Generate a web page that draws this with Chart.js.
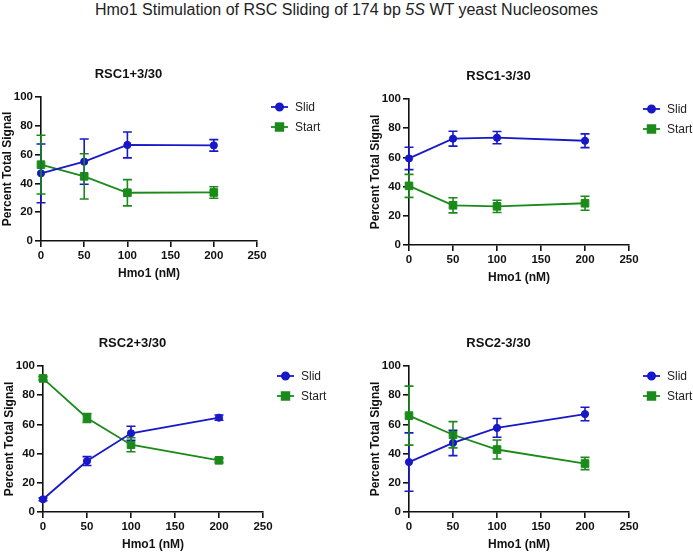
<!DOCTYPE html>
<html><head><meta charset="utf-8">
<script src="https://cdn.jsdelivr.net/npm/chart.js@4/dist/chart.umd.min.js"></script>
<style>
body{margin:0;width:693px;height:553px;background:#fff;position:relative;overflow:hidden;font-family:"Liberation Sans",Arial,sans-serif}
#title{position:absolute;left:0;top:1px;width:693px;text-align:center;font-size:16px;color:#222;white-space:nowrap}
canvas{position:absolute}
</style></head><body>
<div id="title">Hmo1 Stimulation of RSC Sliding of 174 bp <i>5S</i> WT yeast Nucleosomes</div>
<canvas id="c1" width="325" height="233" style="left:0;top:54px"></canvas>
<canvas id="c2" width="325" height="235" style="left:368px;top:56px"></canvas>
<canvas id="c3" width="325" height="235" style="left:2px;top:323px"></canvas>
<canvas id="c4" width="325" height="235" style="left:368px;top:323px"></canvas>
<script>
// ---- data ----
const doses = [0, 50, 100, 200];
const seriesNames = ['Slid', 'Start'];
const panelTitles = ['RSC1+3/30', 'RSC1-3/30', 'RSC2+3/30', 'RSC2-3/30'];
const xAxisTitle = 'Hmo1 (nM)';
const yAxisTitle = 'Percent Total Signal';

const rsc1Plus_slid      = [47.0, 55.1, 66.7, 66.4];
const rsc1Plus_slidErr   = [20.4, 15.7, 9.0, 4.0];
const rsc1Plus_start     = [53.0, 44.9, 33.5, 33.7];
const rsc1Plus_startErr  = [20.4, 15.7, 9.1, 4.0];

const rsc1Minus_slid     = [59.3, 72.8, 73.5, 71.4];
const rsc1Minus_slidErr  = [7.7, 5.1, 4.2, 4.7];
const rsc1Minus_start    = [40.5, 27.2, 26.5, 28.6];
const rsc1Minus_startErr = [7.9, 5.2, 4.2, 4.8];

const rsc2Plus_slid      = [8.7, 34.9, 53.9, 64.6];
const rsc2Plus_slidErr   = [1.0, 3.0, 4.8, 1.8];
const rsc2Plus_start     = [91.5, 64.4, 46.1, 35.4];
const rsc2Plus_startErr  = [1.2, 3.0, 4.8, 1.5];

const rsc2Minus_slid     = [34.2, 47.3, 57.6, 67.1];
const rsc2Minus_slidErr  = [20.0, 8.7, 6.4, 4.6];
const rsc2Minus_start    = [66.0, 52.9, 42.8, 33.2];
const rsc2Minus_startErr = [20.2, 9.0, 6.5, 4.2];

const xMin = 0, xMax = 250, xStep = 50;
const yMin = 0, yMax = 100, yStep = 20;

// ---- styling ----
const BLUE = '#1818c8';
const GREEN = '#1b8a1b';
const FONT = '"Liberation Sans", Arial, sans-serif';

const errorBars = {
  id: 'errorBars',
  afterDatasetsDraw(chart) {
    const ctx = chart.ctx;
    const ys = chart.scales.y;
    chart.data.datasets.forEach((ds, di) => {
      const meta = chart.getDatasetMeta(di);
      ctx.save();
      ctx.strokeStyle = ds.borderColor;
      ctx.lineWidth = 1.6;
      meta.data.forEach((pt, i) => {
        const v = ds.data[i].y, e = ds.errors[i];
        const yt = ys.getPixelForValue(v + e), yb = ys.getPixelForValue(v - e);
        const x = pt.x, cw = 4.5;
        ctx.beginPath();
        ctx.moveTo(x, yt); ctx.lineTo(x, yb);
        ctx.moveTo(x - cw, yt); ctx.lineTo(x + cw, yt);
        ctx.moveTo(x - cw, yb); ctx.lineTo(x + cw, yb);
        ctx.stroke();
      });
      ctx.restore();
    });
  }
};

const sideLegend = {
  id: 'sideLegend',
  afterDraw(chart) {
    const ctx = chart.ctx, a = chart.chartArea;
    chart.data.datasets.forEach((ds, i) => {
      const y = a.top + 10 + i * 20;
      const x0 = a.right + 14, x1 = a.right + 31;
      ctx.save();
      ctx.strokeStyle = ds.borderColor; ctx.lineWidth = 1.8;
      ctx.beginPath(); ctx.moveTo(x0, y); ctx.lineTo(x1, y); ctx.stroke();
      Chart.helpers.drawPoint(ctx, {pointStyle: ds.pointStyle, radius: ds.pointRadius, borderWidth: 1},
                              (x0 + x1) / 2, y);
      ctx.fillStyle = ds.borderColor;
      ctx.fill();
      ctx.fillStyle = '#222';
      ctx.font = '12px ' + FONT;
      ctx.textBaseline = 'middle';
      ctx.textAlign = 'left';
      ctx.fillText(ds.label, a.right + 38, y + 0.5);
      ctx.restore();
    });
  }
};

function pts(arr) { return arr.map((v, i) => ({x: doses[i], y: v})); }

function makeChart(id, title, slid, slidErr, start, startErr, padRight) {
  const axisCommon = {
    border: {display: true, color: '#111', width: 1.6},
    grid: {display: true, drawOnChartArea: false, drawTicks: true, tickLength: 6, color: '#111', lineWidth: 1.6},
  };
  return new Chart(document.getElementById(id), {
    type: 'line',
    data: {
      datasets: [
        {label: seriesNames[0], data: pts(slid), errors: slidErr, borderColor: BLUE, backgroundColor: BLUE,
         pointStyle: 'circle', pointRadius: 3.6, pointBorderWidth: 1, borderWidth: 1.8, clip: false, tension: 0},
        {label: seriesNames[1], data: pts(start), errors: startErr, borderColor: GREEN, backgroundColor: GREEN,
         pointStyle: 'rect', pointRadius: 5.4, pointBorderWidth: 1, borderWidth: 1.8, clip: false, tension: 0}
      ]
    },
    options: {
      responsive: false,
      animation: false,
      events: [],
      layout: {padding: {left: 0, right: padRight, top: 0, bottom: 0}},
      plugins: {
        legend: {display: false},
        tooltip: {enabled: false},
        title: {display: true, text: title, color: '#111',
                font: {family: FONT, size: 13, weight: 'bold'},
                padding: {top: 12.2, bottom: 15.2}}
      },
      scales: {
        x: Object.assign({}, axisCommon, {
          type: 'linear', min: xMin, max: xMax,
          ticks: {stepSize: xStep, padding: 2, color: '#111', maxRotation: 0,
                  font: {family: FONT, size: 11.5, weight: 'bold'}},
          title: {display: true, text: xAxisTitle, color: '#111',
                  font: {family: FONT, size: 12, weight: 'bold'}, padding: {top: 3, bottom: 6}},
          afterFit(s) { s.height = 46; }
        }),
        y: Object.assign({}, axisCommon, {
          type: 'linear', min: yMin, max: yMax,
          ticks: {stepSize: yStep, padding: 2, color: '#111',
                  font: {family: FONT, size: 11.5, weight: 'bold'}},
          title: {display: true, text: yAxisTitle, color: '#111',
                  font: {family: FONT, size: 12, weight: 'bold'}, padding: {top: 0.3, bottom: 2}},
          afterFit(s) { s.width = 41; }
        })
      }
    },
    plugins: [errorBars, sideLegend]
  });
}

makeChart('c1', panelTitles[0], rsc1Plus_slid, rsc1Plus_slidErr, rsc1Plus_start, rsc1Plus_startErr, 68);
makeChart('c2', panelTitles[1], rsc1Minus_slid, rsc1Minus_slidErr, rsc1Minus_start, rsc1Minus_startErr, 64);
makeChart('c3', panelTitles[2], rsc2Plus_slid, rsc2Plus_slidErr, rsc2Plus_start, rsc2Plus_startErr, 64);
makeChart('c4', panelTitles[3], rsc2Minus_slid, rsc2Minus_slidErr, rsc2Minus_start, rsc2Minus_startErr, 64);
</script>
</body></html>
